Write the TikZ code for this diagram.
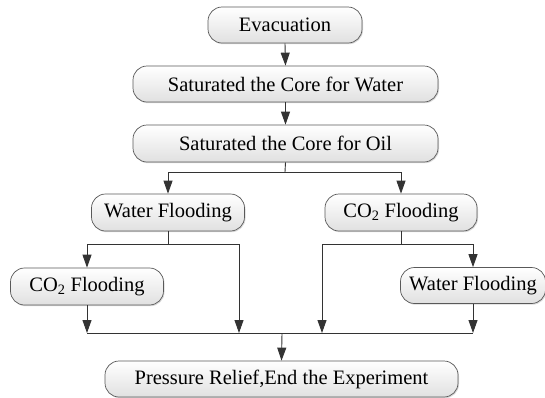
\documentclass[tikz,border=0pt]{standalone}
\usepackage{fontspec}
\setmainfont{Liberation Serif}
\newfontfamily\tnrfont{Liberation Serif}
\usetikzlibrary{arrows.meta,shadows}
\tikzset{
  stepbox/.style={draw=black!65, line width=0.7pt, rounded corners=14pt,
    top color=white, bottom color=black!12, inner sep=0pt,
    drop shadow={shadow xshift=1pt, shadow yshift=-1.2pt, opacity=0.25, fill=black!60},
    font=\tnrfont\fontsize{20.5}{22}\selectfont, align=center},
  link/.style={draw=black!80, line width=0.9pt},
  arr/.style={link, -{Triangle[length=13pt, width=9pt]}}
}
\begin{document}
\begin{tikzpicture}[x=1pt,y=-1pt]
\useasboundingbox (0,0) rectangle (545,397);
\node[stepbox, minimum width=154pt, minimum height=36pt] (ev) at (285,25) {Evacuation};
\node[stepbox, minimum width=305pt, minimum height=36pt] (sw) at (285.5,84) {Saturated the Core for Water};
\node[stepbox, minimum width=305pt, minimum height=37pt] (so) at (285.5,143.5) {Saturated the Core for Oil};
\node[stepbox, minimum width=153pt, minimum height=37pt] (wfa) at (168,212.5) {Water Flooding};
\node[stepbox, minimum width=152pt, minimum height=37pt] (coa) at (401,212.5) {CO\textsubscript{2} Flooding};
\node[stepbox, minimum width=153pt, minimum height=37pt] (cob) at (87,286.5) {CO\textsubscript{2} Flooding};
\node[stepbox, minimum width=145pt, minimum height=36pt] (wfb) at (473,285.5) {Water Flooding};
\node[stepbox, minimum width=353pt, minimum height=36pt] (pr) at (281.5,379) {Pressure Relief,End the Experiment};

\coordinate (j0) at (285,172);
\coordinate (j1) at (168,244);
\coordinate (j2) at (401,244);
\coordinate (mL) at (87,333);
\coordinate (mA) at (239,333);
\coordinate (mB) at (322,333);
\coordinate (mR) at (473,333);
\coordinate (mC) at (282,333);

\draw[arr] (ev.south) -- (sw.north);
\draw[arr] (sw.south) -- (so.north);
\draw[link] (so.south) -- (j0);
\draw[arr] (j0) -| (wfa.north);
\draw[arr] (j0) -| (coa.north);

\draw[link] (wfa.south) -- (j1);
\draw[arr] (j1) -| (cob.north);
\draw[arr] (j1) -| (mA);

\draw[link] (coa.south) -- (j2);
\draw[arr] (j2) -| (mB);
\draw[arr] (j2) -| (wfb.north);

\draw[arr] (cob.south) -- (mL);
\draw[arr] (wfb.south) -- (mR);
\draw[link] (mL) -- (mR);
\draw[arr] (mC) -- (pr.north);
\end{tikzpicture}
\end{document}
